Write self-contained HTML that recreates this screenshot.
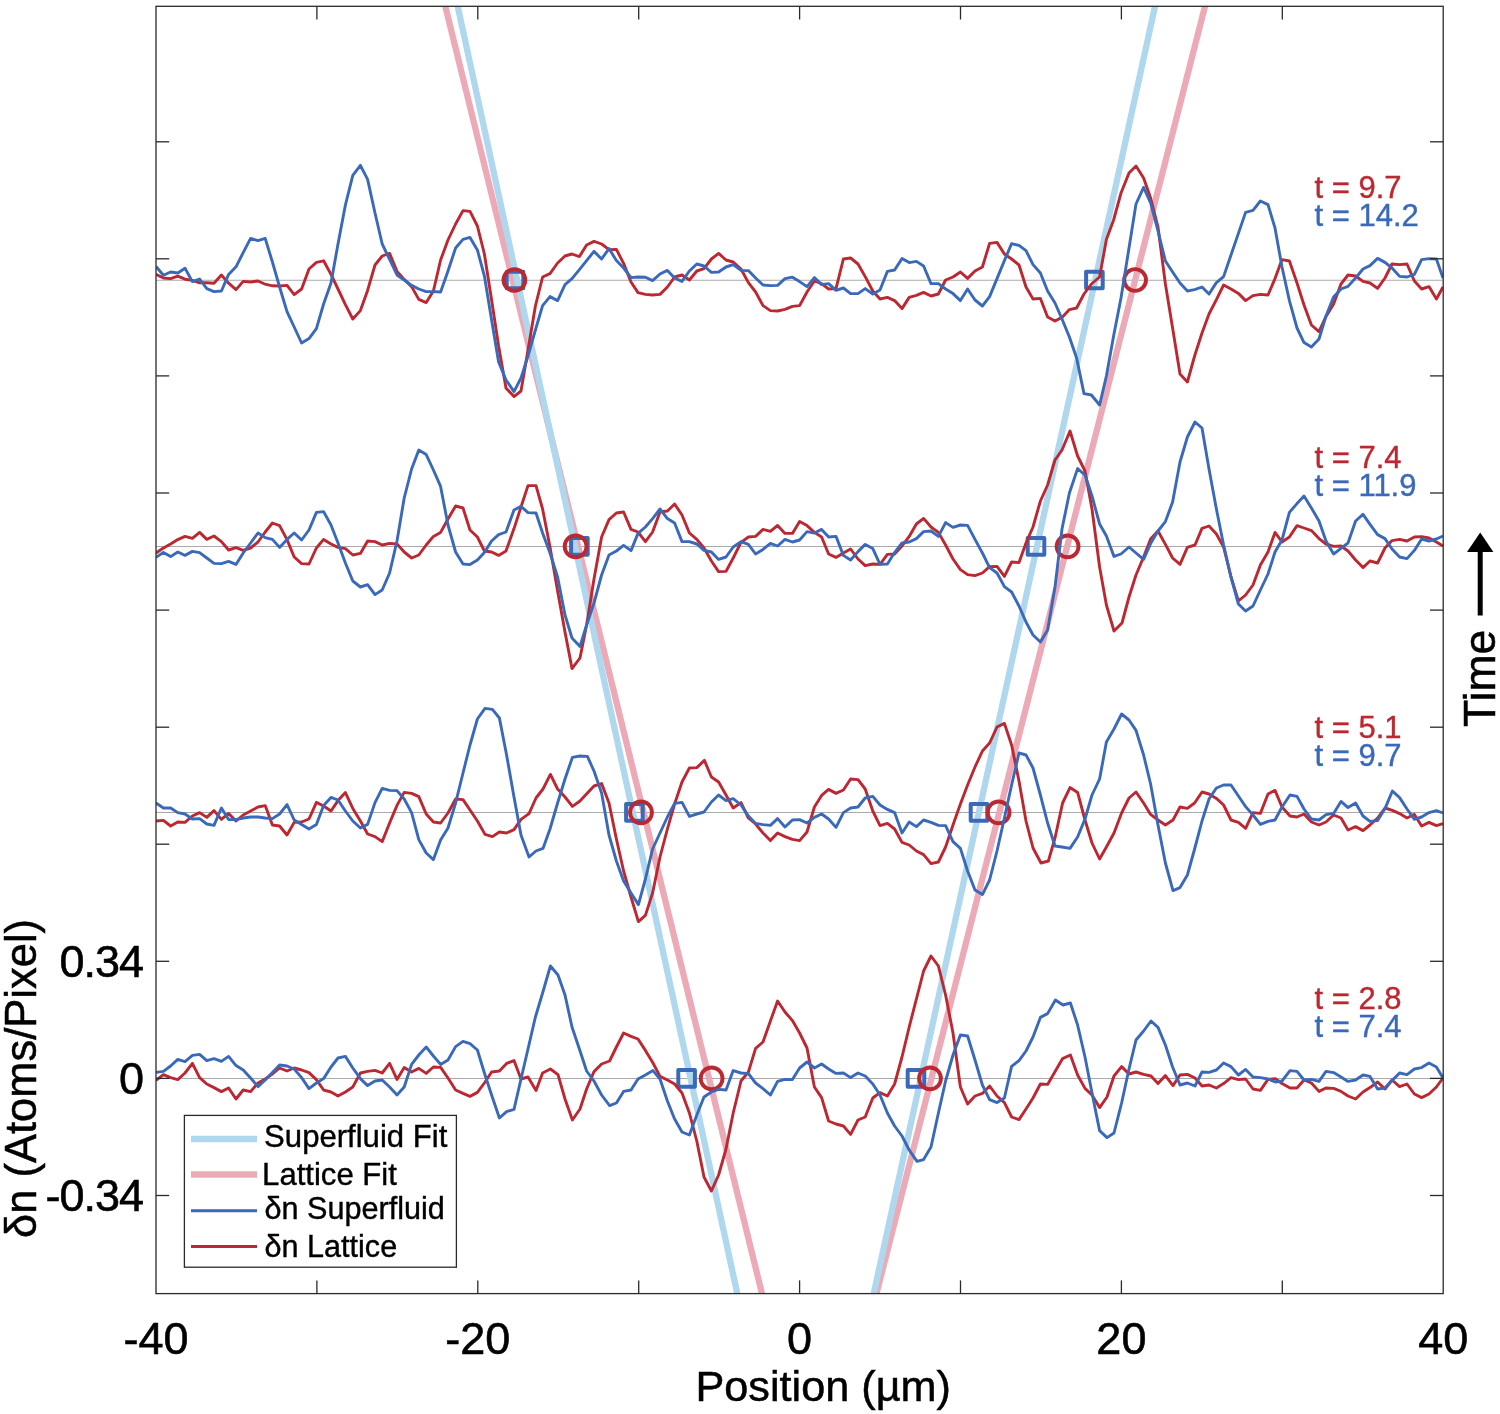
<!DOCTYPE html>
<html lang="en"><head><meta charset="utf-8"><title>Density wave propagation</title>
<style>html,body{margin:0;padding:0;background:#fff;}body{width:1500px;height:1414px;overflow:hidden;}</style>
</head><body>
<svg width="1500" height="1414" viewBox="0 0 1500 1414" style="display:block">
<rect x="0" y="0" width="1500" height="1414" fill="#ffffff"/>
<defs><clipPath id="pc"><rect x="156.0" y="6.3" width="1287.2" height="1287.3"/></clipPath></defs>
<g stroke="#aaaaaa" stroke-width="1.1" fill="none">
<line x1="156.0" y1="280.3" x2="1443.2" y2="280.3"/>
<line x1="156.0" y1="546.5" x2="1443.2" y2="546.5"/>
<line x1="156.0" y1="812.5" x2="1443.2" y2="812.5"/>
<line x1="156.0" y1="1078.5" x2="1443.2" y2="1078.5"/>
</g>
<g stroke-width="6.3" fill="none" clip-path="url(#pc)">
<line x1="442.84" y1="-3.7" x2="764.44" y2="1303.6" stroke="#ecaab6"/>
<line x1="1207.55" y1="-3.7" x2="873.93" y2="1303.6" stroke="#ecaab6"/>
<line x1="455.53" y1="-3.7" x2="739.47" y2="1303.6" stroke="#afd8ee"/>
<line x1="1157.18" y1="-3.7" x2="871.54" y2="1303.6" stroke="#afd8ee"/>
</g>
<g fill="none" stroke="#3a69ba" stroke-width="4" stroke-linejoin="round">
<rect x="506.7" y="271.7" width="16.6" height="16.6"/>
<rect x="1086.1" y="271.7" width="16.6" height="16.6"/>
<rect x="571.1" y="538.1" width="16.6" height="16.6"/>
<rect x="1027.7" y="538.1" width="16.6" height="16.6"/>
<rect x="626.1" y="804.1" width="16.6" height="16.6"/>
<rect x="970.7" y="804.1" width="16.6" height="16.6"/>
<rect x="678.3" y="1070.1" width="16.6" height="16.6"/>
<rect x="907.7" y="1070.1" width="16.6" height="16.6"/>
</g>
<g fill="none" stroke="#bc2831" stroke-width="3.9">
<circle cx="514.4" cy="280" r="10.9"/>
<circle cx="1135.1" cy="280" r="10.9"/>
<circle cx="575.6" cy="546.4" r="10.9"/>
<circle cx="1067.6" cy="546.4" r="10.9"/>
<circle cx="641" cy="812.4" r="10.9"/>
<circle cx="998.6" cy="812.4" r="10.9"/>
<circle cx="711.6" cy="1078.4" r="10.9"/>
<circle cx="930" cy="1078.4" r="10.9"/>
</g>
<g fill="none" stroke-width="2.9" stroke-linejoin="round" stroke-linecap="butt" clip-path="url(#pc)">
<polyline points="156.0,274.4 163.4,278.0 170.6,278.6 177.8,276.2 185.0,279.2 192.4,280.4 199.6,282.8 206.8,282.8 214.0,283.2 221.4,275.0 228.6,283.2 236.0,289.6 243.2,281.4 250.6,282.0 258.0,281.0 265.2,284.2 272.4,285.8 279.6,286.0 287.0,285.4 294.2,294.6 301.6,289.0 309.0,269.0 316.4,262.4 323.6,260.8 331.0,274.4 338.0,289.0 345.4,304.6 352.8,319.0 360.4,310.6 367.6,290.4 375.0,265.0 382.2,256.0 389.6,253.4 397.0,271.4 404.2,279.4 411.6,286.6 418.8,299.4 426.2,302.6 433.4,291.0 440.6,260.0 448.0,240.0 455.6,224.0 463.0,210.6 470.0,211.4 477.4,226.0 484.4,254.0 491.6,300.0 498.6,346.0 506.0,388.0 514.0,396.6 521.0,391.0 528.0,350.0 535.4,306.0 542.6,277.0 550.0,273.6 557.6,263.0 565.0,256.0 572.0,254.0 579.4,256.6 586.6,245.0 594.0,241.4 601.6,244.0 609.0,249.6 616.4,249.4 623.6,263.4 631.0,282.0 638.0,292.6 645.4,294.4 652.6,295.0 660.0,294.4 667.4,287.0 674.6,277.0 682.0,275.0 689.4,280.0 696.8,271.0 704.0,268.6 711.4,259.0 718.6,253.4 726.0,260.0 733.2,262.0 741.0,269.0 748.4,282.6 755.6,292.0 763.0,305.6 770.4,310.6 777.6,311.0 785.0,309.4 792.4,306.4 799.6,305.6 807.0,292.0 814.4,281.0 821.6,283.6 828.6,289.0 836.0,288.6 843.4,259.0 850.6,258.0 858.0,264.0 865.2,276.6 872.8,291.0 880.0,299.0 887.4,297.4 894.6,300.6 902.0,308.6 909.2,297.4 916.4,295.4 923.6,292.4 931.0,296.0 938.4,294.0 945.6,280.0 953.0,277.0 960.4,272.0 967.6,278.4 975.0,271.0 982.4,267.0 989.6,243.4 997.0,242.4 1004.4,254.0 1011.6,259.0 1019.0,265.0 1026.0,287.0 1033.0,299.0 1040.4,298.4 1047.6,317.0 1055.0,321.0 1062.0,317.4 1069.4,309.6 1076.6,308.0 1084.0,294.0 1091.4,284.0 1099.6,277.0 1106.4,239.4 1113.6,220.0 1121.0,193.0 1129.0,173.0 1136.0,166.0 1143.6,178.0 1150.6,198.0 1158.0,227.0 1165.4,284.0 1172.6,328.0 1180.0,374.0 1187.4,382.0 1194.6,356.0 1202.0,333.0 1209.0,314.0 1216.4,299.6 1223.6,285.0 1231.0,289.0 1238.4,293.4 1245.6,300.6 1253.0,295.6 1260.4,294.4 1268.0,295.0 1275.0,278.6 1282.0,259.6 1289.4,261.0 1297.0,283.0 1304.0,305.0 1311.4,325.0 1319.0,331.6 1326.0,316.4 1333.6,304.0 1341.0,284.0 1348.0,275.0 1355.6,276.0 1363.0,281.4 1370.0,283.0 1377.6,288.4 1385.0,278.0 1392.0,264.0 1399.6,264.6 1407.0,264.0 1414.4,281.0 1421.6,289.0 1429.0,286.6 1436.4,299.0 1443.0,287.0" stroke="#bc2831"/>
<polyline points="156.0,553.0 163.4,548.0 170.6,544.0 177.8,539.6 185.0,536.4 192.4,538.4 199.6,532.4 206.8,539.4 214.0,536.0 221.4,541.6 228.6,550.0 236.0,547.6 243.2,550.4 250.6,548.0 258.0,542.0 265.2,532.0 272.4,523.0 279.6,525.6 287.0,539.6 294.2,557.0 301.6,563.6 309.0,564.0 316.4,548.0 323.6,539.4 331.0,544.0 338.0,547.4 345.4,548.6 352.8,555.0 360.4,553.4 367.6,541.0 375.0,541.6 382.2,545.0 389.6,543.4 397.0,544.0 404.2,552.0 411.6,558.0 418.8,555.0 426.2,545.0 433.4,536.4 440.6,532.4 448.0,519.0 455.6,506.0 463.0,508.0 470.0,530.0 477.4,537.0 484.4,551.0 491.6,552.0 498.6,555.4 506.0,551.0 514.0,528.6 521.0,507.0 528.0,485.6 536.0,485.6 542.6,509.0 550.0,547.0 557.6,591.0 565.0,632.0 572.0,668.6 580.0,658.0 586.6,625.0 594.0,579.0 601.6,537.0 609.0,519.6 616.4,513.0 623.6,512.0 631.0,529.4 638.0,532.0 645.4,541.6 652.6,532.0 660.0,512.0 667.4,511.0 674.6,504.0 682.0,515.0 689.4,533.0 696.8,539.4 704.0,548.0 711.4,561.0 718.6,571.6 726.0,571.4 733.2,558.0 741.0,542.4 748.4,537.0 755.6,536.4 763.0,529.4 770.4,531.4 777.6,525.4 785.0,533.4 792.4,533.4 799.6,521.4 807.0,525.6 814.4,532.4 821.6,537.0 828.6,554.0 836.0,557.4 843.4,553.0 850.6,549.0 858.0,559.0 865.2,565.6 872.8,564.0 880.0,564.4 887.4,554.4 894.6,554.0 902.0,546.0 909.2,536.4 916.4,524.0 923.6,518.4 931.0,527.0 938.4,532.4 945.6,545.0 953.0,559.0 960.4,569.6 967.6,574.6 975.0,575.6 982.4,573.0 989.6,566.6 997.0,566.4 1004.4,576.4 1011.6,562.0 1019.0,562.6 1026.0,543.0 1033.0,527.0 1040.4,501.0 1047.6,485.0 1055.0,460.0 1062.0,450.0 1070.0,431.0 1077.6,456.0 1085.0,471.0 1092.0,509.0 1099.6,567.0 1106.4,605.0 1114.0,631.0 1122.0,623.0 1129.0,597.0 1136.0,575.0 1143.6,557.0 1150.6,539.0 1158.0,531.0 1165.4,544.4 1172.6,558.0 1180.0,564.4 1187.4,547.4 1195.0,545.0 1202.0,528.4 1209.0,526.0 1216.4,534.0 1223.6,547.0 1231.0,577.0 1238.4,601.0 1245.6,595.0 1253.0,585.0 1260.4,565.0 1268.0,552.0 1275.0,532.4 1282.0,542.0 1289.4,537.0 1297.0,525.6 1304.0,528.0 1311.4,530.6 1319.0,538.6 1326.0,544.0 1333.6,546.4 1341.0,546.0 1348.0,551.0 1355.6,560.0 1363.0,567.6 1370.0,561.0 1377.6,563.0 1385.0,548.0 1392.0,540.6 1399.6,539.4 1407.0,541.0 1414.4,537.0 1421.6,536.6 1429.0,538.0 1436.4,542.0 1443.0,546.0" stroke="#bc2831"/>
<polyline points="156.0,821.0 163.4,820.4 170.6,826.0 177.8,822.0 185.0,822.4 192.4,816.0 199.6,812.6 206.8,817.4 214.0,810.6 221.4,819.4 228.6,813.4 236.0,821.0 243.2,815.0 250.6,811.0 258.0,807.0 265.2,805.6 272.4,825.0 279.6,826.0 287.0,835.0 294.2,822.4 301.6,822.0 309.0,819.0 316.4,802.4 323.6,806.0 331.0,811.0 338.0,800.6 345.4,792.6 352.8,808.4 360.4,821.0 367.6,834.0 375.0,836.6 382.2,841.6 389.6,823.0 397.0,805.4 404.2,792.4 411.6,793.4 418.8,796.6 426.2,814.0 433.4,822.0 440.6,823.0 448.0,813.0 455.6,799.0 463.0,799.6 470.0,810.0 477.4,821.0 485.0,834.4 492.4,836.6 499.4,832.0 506.6,833.0 514.0,829.6 521.0,819.4 529.0,813.6 536.0,798.0 543.0,789.0 550.4,774.4 557.6,789.0 565.0,797.0 572.4,806.4 580.0,801.0 587.4,793.0 594.0,786.0 601.6,783.6 609.0,803.0 616.4,839.0 623.6,871.0 631.0,897.0 638.4,921.6 645.4,915.4 652.6,893.0 660.0,857.0 667.4,829.0 674.6,804.0 682.0,782.0 689.4,768.0 696.8,767.6 704.4,760.4 711.4,777.0 718.6,782.0 726.0,795.0 733.2,808.0 741.0,802.6 748.4,818.0 755.6,824.0 763.0,833.0 770.4,840.6 777.6,833.0 785.0,836.6 792.4,839.4 799.6,840.6 807.0,832.0 814.4,807.0 821.6,795.4 828.6,789.4 836.0,793.4 843.4,790.0 850.6,779.0 858.0,779.6 865.2,789.0 872.8,811.0 880.0,825.6 887.4,823.4 894.6,829.0 902.0,842.4 909.2,845.0 916.4,851.0 923.6,854.6 931.0,863.6 938.4,862.0 945.6,847.0 953.0,825.0 960.4,804.0 967.6,785.0 975.0,767.0 982.4,751.0 989.6,743.0 997.0,727.0 1004.4,723.4 1011.6,745.0 1019.0,781.0 1026.0,821.0 1033.0,848.0 1041.0,863.0 1048.4,861.0 1055.0,838.0 1062.6,803.0 1070.0,787.6 1077.6,792.4 1085.0,820.0 1092.0,843.0 1099.6,859.0 1106.4,847.0 1114.0,833.0 1121.6,813.0 1129.0,798.0 1136.0,792.0 1143.6,803.0 1150.6,814.4 1158.0,820.0 1165.4,825.0 1173.0,820.0 1180.0,807.0 1187.4,808.4 1194.6,803.0 1202.0,792.0 1209.0,794.0 1216.4,798.4 1223.6,805.0 1231.0,820.0 1238.4,822.4 1245.6,828.4 1253.0,812.6 1260.4,813.4 1268.0,794.0 1275.0,790.4 1282.0,807.0 1290.0,816.0 1297.0,817.0 1304.0,814.0 1311.4,822.0 1319.0,825.0 1326.0,822.0 1333.6,815.0 1341.0,818.0 1348.0,830.0 1355.6,826.6 1363.0,830.6 1370.0,825.0 1377.6,818.0 1385.0,808.0 1392.4,810.4 1399.6,813.6 1407.0,818.0 1414.4,814.4 1421.6,826.0 1429.0,822.4 1436.4,825.6 1443.0,823.6" stroke="#bc2831"/>
<polyline points="156.0,1080.4 163.4,1074.6 170.6,1077.6 177.8,1079.6 185.0,1073.0 192.4,1063.4 199.6,1077.6 206.8,1084.0 214.0,1087.6 221.4,1091.6 228.6,1088.0 236.0,1099.0 243.2,1090.0 250.6,1091.6 258.0,1083.0 265.2,1079.0 272.4,1074.0 279.6,1068.0 287.0,1071.0 294.2,1068.0 301.6,1070.0 309.0,1072.6 316.4,1079.6 323.6,1090.0 331.0,1092.0 338.0,1096.0 345.4,1092.0 352.8,1087.0 360.4,1073.0 367.6,1071.4 375.0,1070.4 382.2,1073.0 389.6,1063.4 397.0,1079.4 404.2,1067.4 411.6,1072.0 418.8,1068.4 426.2,1073.4 433.4,1067.0 440.6,1067.4 448.0,1078.0 455.6,1090.0 463.0,1093.4 470.0,1096.4 477.4,1092.4 484.4,1083.0 491.6,1072.0 499.4,1071.0 506.6,1063.4 514.0,1060.6 521.0,1079.0 528.0,1077.0 536.0,1090.4 542.6,1073.0 550.4,1069.0 558.0,1074.6 565.0,1099.0 572.4,1120.0 580.0,1109.0 586.6,1089.0 594.0,1071.6 601.6,1064.0 609.6,1061.0 616.4,1047.0 623.6,1033.0 631.0,1036.4 638.0,1039.0 645.4,1050.4 653.0,1063.0 660.0,1076.4 667.4,1080.0 674.6,1084.0 682.0,1093.0 689.4,1113.0 696.8,1141.0 704.0,1177.0 711.4,1191.0 718.6,1175.0 726.0,1149.0 733.2,1113.0 741.0,1081.0 748.4,1072.0 755.6,1048.4 763.0,1042.0 770.4,1021.0 777.6,1001.0 785.0,1012.0 792.4,1020.6 799.6,1033.0 807.0,1048.0 814.4,1087.0 821.6,1097.6 828.6,1121.0 836.0,1124.0 843.4,1126.0 850.6,1134.4 858.0,1120.0 865.2,1117.0 872.8,1098.0 880.0,1092.6 887.4,1096.0 894.6,1084.0 902.0,1057.0 909.2,1027.0 916.4,999.0 923.6,971.0 931.0,956.0 938.4,966.0 945.6,995.0 953.0,1033.0 960.4,1087.0 967.6,1104.0 975.0,1096.0 982.4,1093.4 989.6,1086.0 997.0,1096.0 1004.4,1102.6 1011.6,1117.0 1019.0,1119.6 1026.0,1109.0 1033.0,1098.0 1040.4,1084.0 1047.6,1084.4 1055.4,1071.0 1062.6,1058.6 1070.4,1055.0 1077.6,1075.0 1085.0,1088.4 1092.0,1095.0 1099.6,1107.6 1107.0,1097.0 1114.0,1076.0 1121.6,1066.6 1129.0,1074.0 1136.0,1072.0 1143.6,1074.4 1151.0,1076.0 1158.0,1083.6 1165.4,1075.6 1173.0,1085.6 1180.0,1075.0 1187.4,1074.4 1195.0,1078.0 1202.0,1086.0 1209.0,1085.0 1216.4,1088.0 1223.6,1083.6 1231.0,1077.6 1238.4,1079.6 1245.6,1079.0 1253.0,1089.0 1260.4,1090.4 1268.0,1079.4 1275.4,1078.6 1282.0,1083.6 1290.0,1088.0 1297.0,1088.0 1304.0,1080.0 1311.4,1083.0 1319.0,1091.4 1326.0,1088.0 1333.6,1088.4 1341.0,1091.4 1348.0,1096.0 1355.6,1099.0 1363.0,1092.0 1370.0,1087.6 1377.6,1082.0 1385.0,1089.0 1392.0,1080.0 1399.6,1086.6 1407.0,1084.0 1414.4,1094.0 1421.6,1097.6 1429.0,1094.0 1436.4,1087.0 1443.0,1078.0" stroke="#bc2831"/>
<polyline points="156.0,266.4 163.4,275.2 170.6,272.0 177.8,273.0 185.0,268.2 192.4,281.6 199.6,279.0 206.8,288.6 214.0,291.6 221.4,291.0 228.6,274.4 236.0,266.8 243.2,252.6 250.6,238.4 258.0,240.6 265.2,238.4 272.4,262.0 279.6,287.0 287.0,311.6 294.2,327.0 301.6,343.0 309.0,338.6 316.4,328.6 323.6,304.0 331.0,283.0 338.0,244.0 345.4,205.0 352.8,175.4 360.4,165.4 367.6,179.4 375.0,213.0 382.2,244.0 389.6,259.4 397.0,275.0 404.2,280.0 411.6,285.4 418.8,289.0 426.2,291.6 433.4,291.6 440.6,292.0 448.0,271.0 455.6,248.0 463.0,239.4 470.0,237.4 477.4,250.0 484.4,276.0 491.6,320.0 498.6,362.0 506.0,380.0 514.0,391.6 521.0,378.0 528.0,356.0 535.4,330.0 542.6,305.6 550.0,296.6 557.6,300.6 565.0,284.6 572.0,278.6 579.4,269.6 586.6,260.6 594.0,251.4 601.6,259.0 609.0,248.6 616.4,260.6 623.6,268.0 631.0,277.6 638.0,277.0 645.4,277.2 652.6,280.6 660.0,274.0 667.4,270.4 674.6,278.0 682.0,281.4 689.4,271.0 696.8,264.0 704.0,266.0 711.4,272.4 718.6,272.0 726.0,267.0 733.2,264.6 741.0,270.4 748.4,270.6 755.6,278.0 763.0,285.0 770.4,285.6 777.6,285.4 785.0,278.6 792.4,277.2 799.6,281.6 807.0,286.6 814.4,277.6 821.6,284.6 828.6,283.6 836.0,290.4 843.4,288.0 850.6,293.6 858.0,293.6 865.2,288.6 872.8,294.0 880.0,290.0 887.4,271.4 894.6,270.0 902.0,258.6 909.2,262.6 916.4,261.4 923.6,266.0 931.0,283.6 938.4,283.6 945.6,289.0 953.0,293.6 960.4,300.6 967.6,289.0 975.0,300.0 982.4,306.0 989.6,296.6 997.0,278.6 1004.4,260.6 1011.6,243.6 1019.0,245.4 1026.0,250.6 1033.0,264.6 1040.4,273.0 1047.6,291.0 1055.0,303.0 1062.0,319.0 1069.4,337.0 1076.6,358.0 1084.0,393.6 1091.4,395.0 1099.6,405.0 1106.4,376.0 1113.6,336.0 1121.0,298.0 1129.0,248.0 1136.0,204.0 1143.6,187.4 1150.6,203.0 1158.0,231.0 1165.4,261.0 1172.6,272.0 1180.0,283.0 1187.4,291.0 1194.6,289.6 1202.0,287.0 1209.0,294.0 1216.4,282.6 1223.6,276.6 1231.0,255.0 1238.4,233.4 1245.6,212.4 1253.0,210.4 1260.4,201.0 1268.0,204.6 1275.0,228.0 1282.0,267.0 1289.4,300.6 1297.0,328.0 1304.0,342.6 1311.4,347.0 1319.0,339.0 1326.0,316.0 1333.6,297.0 1341.0,289.0 1348.0,286.4 1355.6,278.0 1363.0,269.0 1370.0,265.6 1377.6,258.4 1385.0,262.4 1392.0,268.0 1399.6,276.4 1407.0,277.0 1414.4,274.4 1421.6,259.6 1429.0,258.6 1436.4,259.0 1443.0,278.0" stroke="#3a69ba"/>
<polyline points="156.0,557.4 163.4,552.4 170.6,556.6 177.8,552.0 185.0,555.4 192.4,551.4 199.6,552.6 206.8,558.0 214.0,563.4 221.4,563.6 228.6,561.4 236.0,564.4 243.2,553.0 250.6,543.0 258.0,533.0 265.2,537.6 272.4,539.4 279.6,547.4 287.0,539.4 294.2,533.0 301.6,540.0 309.0,530.0 316.4,512.4 323.6,511.6 331.0,525.0 338.0,543.0 345.4,563.0 352.8,581.0 360.4,587.0 367.6,584.6 375.0,594.6 382.2,590.0 389.6,573.0 397.0,541.0 404.2,498.0 411.6,469.0 418.8,450.0 426.2,454.6 433.4,470.0 440.6,486.4 448.0,525.0 455.6,552.0 463.0,564.0 470.0,564.6 477.4,560.0 484.4,552.6 491.6,541.0 498.6,534.6 506.0,532.0 514.0,510.0 521.0,506.4 528.0,512.6 536.0,513.0 542.6,533.0 550.0,553.0 557.6,577.0 565.0,615.0 572.0,638.0 580.0,646.4 586.6,625.0 594.0,603.0 601.6,575.0 609.0,555.0 616.4,551.0 623.6,545.4 631.0,550.6 638.0,533.4 645.4,527.0 652.6,518.6 660.0,509.0 667.4,518.6 674.6,523.0 682.0,541.6 689.4,541.6 696.8,544.0 704.0,550.4 711.4,552.0 718.6,559.4 726.0,557.0 733.2,547.0 741.0,541.6 748.4,544.4 755.6,554.0 763.0,549.4 770.4,543.4 777.6,546.0 785.0,539.4 792.4,542.0 799.6,540.0 807.0,531.6 814.4,533.0 821.6,529.4 828.6,537.0 836.0,536.4 843.4,555.4 850.6,560.0 858.0,551.6 865.2,544.4 872.8,548.6 880.0,564.4 887.4,564.0 894.6,552.6 902.0,543.0 909.2,542.0 916.4,538.6 923.6,531.6 931.0,531.0 938.4,536.4 945.6,522.6 953.0,527.4 960.4,525.0 967.6,525.4 975.0,539.4 982.4,553.0 989.6,567.6 997.0,573.0 1004.4,586.6 1011.6,592.0 1019.0,606.0 1026.0,622.0 1033.0,635.0 1040.4,642.0 1047.6,630.0 1055.0,587.0 1062.0,529.0 1069.4,493.0 1077.6,468.6 1085.0,475.0 1092.0,496.0 1099.6,524.0 1106.4,536.0 1114.0,556.4 1121.0,554.0 1129.0,547.0 1136.0,553.0 1143.6,559.4 1150.6,543.6 1158.0,531.0 1165.4,521.6 1172.6,502.0 1180.0,462.0 1187.4,437.0 1195.0,422.0 1202.0,428.0 1209.0,469.0 1216.4,509.0 1223.6,545.0 1231.0,577.0 1238.4,604.0 1245.6,611.0 1253.0,606.0 1260.4,590.0 1268.0,574.0 1275.0,552.0 1282.0,540.0 1289.4,512.4 1297.0,503.6 1304.0,496.0 1311.4,508.0 1319.0,521.0 1326.0,541.0 1333.6,554.0 1341.0,548.4 1348.0,543.0 1355.6,521.0 1363.0,514.4 1370.0,524.4 1377.6,534.6 1385.0,538.6 1392.0,549.0 1399.6,557.0 1407.0,558.6 1414.4,550.4 1421.6,539.0 1429.0,541.0 1436.4,539.0 1443.0,536.0" stroke="#3a69ba"/>
<polyline points="156.0,803.0 163.4,808.0 170.6,808.0 177.8,812.6 185.0,814.0 192.4,819.0 199.6,818.6 206.8,824.0 214.0,825.4 221.4,808.0 228.6,819.6 236.0,819.6 243.2,818.0 250.6,817.0 258.0,817.0 265.2,818.0 272.4,818.6 279.6,814.0 287.0,804.6 294.2,820.0 301.6,824.6 309.0,829.0 316.4,824.6 323.6,805.4 331.0,797.4 338.0,800.0 345.4,811.0 352.8,821.0 360.4,828.0 367.6,824.4 375.0,802.6 382.2,788.4 389.6,790.4 397.0,790.6 404.2,799.0 411.6,812.6 418.8,839.6 426.2,853.0 433.4,859.6 440.6,840.0 448.0,828.0 455.6,803.0 463.0,773.0 470.0,745.0 477.4,719.0 485.0,708.4 492.4,709.4 499.4,718.0 506.6,755.0 514.0,797.0 521.0,835.0 529.0,857.0 536.0,851.0 543.0,848.4 550.0,829.0 557.6,803.0 565.0,779.0 572.4,757.4 580.0,756.0 587.4,756.4 594.0,771.0 601.6,793.0 609.0,835.0 616.4,861.0 623.6,881.0 631.0,893.0 638.4,904.6 645.4,879.0 652.6,849.0 660.0,833.0 667.4,817.0 674.6,803.4 682.0,802.4 689.4,816.4 696.8,814.0 704.0,812.0 711.4,802.0 718.6,795.0 726.0,800.6 733.2,798.6 741.0,805.0 748.4,816.0 755.6,823.4 763.0,824.6 770.4,825.4 777.6,818.6 785.0,827.0 792.4,820.0 799.6,819.6 807.0,823.0 814.4,817.4 821.6,814.0 828.6,819.0 836.0,827.4 843.4,812.6 850.6,808.0 858.0,807.0 865.2,798.0 872.8,796.4 880.0,805.0 887.4,809.4 894.6,812.6 902.0,833.0 909.2,822.0 916.4,826.6 923.6,820.0 931.0,822.4 938.4,825.4 945.6,825.6 953.0,841.6 960.4,848.4 967.6,871.0 975.0,890.0 982.4,894.6 989.6,880.0 997.0,851.0 1004.4,818.0 1011.6,785.0 1019.0,753.0 1026.0,755.0 1033.0,768.0 1040.4,795.0 1047.6,823.0 1055.0,846.0 1062.0,847.0 1070.0,848.4 1077.6,837.0 1085.0,819.0 1092.0,795.0 1099.6,779.0 1106.4,742.0 1114.0,729.0 1121.6,714.0 1129.0,720.0 1136.0,730.4 1143.6,755.0 1150.6,784.0 1158.0,825.0 1165.4,863.0 1173.0,890.6 1180.0,887.6 1187.4,875.0 1194.6,849.0 1202.0,821.0 1209.0,799.0 1216.4,788.0 1223.6,785.0 1231.0,785.0 1238.4,796.0 1245.6,806.6 1253.0,815.0 1260.4,824.4 1268.0,821.4 1275.0,820.0 1282.0,807.0 1290.0,795.0 1297.0,796.4 1304.0,809.0 1311.4,819.0 1319.0,820.0 1326.0,814.6 1333.6,813.4 1341.0,801.4 1348.0,807.6 1355.6,803.0 1363.0,816.0 1370.0,821.4 1377.6,820.6 1385.0,808.6 1392.4,791.0 1399.6,797.6 1407.0,809.0 1414.4,819.4 1421.6,817.0 1429.0,812.6 1436.4,810.6 1443.0,813.0" stroke="#3a69ba"/>
<polyline points="156.0,1072.4 163.4,1071.4 170.6,1066.0 177.8,1059.4 185.0,1061.6 192.4,1055.4 199.6,1054.4 206.8,1060.6 214.0,1058.6 221.4,1061.4 228.6,1056.4 236.0,1065.6 243.2,1070.0 250.6,1078.0 258.0,1086.6 265.2,1080.0 272.4,1072.6 279.6,1065.0 287.0,1066.0 294.2,1069.0 301.6,1077.6 309.0,1088.6 316.4,1083.0 323.6,1078.6 331.0,1067.0 338.0,1058.0 345.4,1056.4 352.8,1068.0 360.4,1078.6 367.6,1085.6 375.0,1081.0 382.2,1080.0 389.6,1087.0 397.0,1095.0 404.2,1087.0 411.6,1064.4 418.8,1055.0 426.2,1047.0 433.4,1056.0 440.6,1064.4 448.0,1060.0 455.6,1046.6 463.0,1041.4 470.0,1043.6 477.4,1050.0 484.4,1073.0 491.6,1095.0 499.4,1118.0 506.6,1111.6 514.0,1109.4 521.0,1079.0 528.0,1049.0 535.4,1017.0 542.6,993.0 550.4,966.0 558.0,975.0 565.0,995.0 572.0,1027.0 579.4,1049.0 586.6,1071.0 594.0,1081.0 601.6,1095.0 609.6,1105.6 616.4,1103.0 623.6,1091.4 631.0,1090.0 638.0,1079.0 645.4,1075.0 653.0,1070.6 660.0,1079.0 667.4,1101.0 674.6,1119.0 682.0,1132.0 689.4,1135.0 696.8,1115.0 704.0,1097.0 711.4,1092.0 718.6,1089.4 726.0,1090.0 733.2,1070.6 741.0,1073.0 748.4,1073.6 755.6,1083.0 763.0,1088.6 770.4,1095.0 777.6,1081.4 785.0,1079.4 792.4,1079.6 799.6,1068.0 807.0,1062.0 814.4,1068.0 821.6,1064.0 828.6,1069.0 836.0,1073.4 843.4,1073.0 850.6,1077.6 858.0,1073.0 865.2,1076.0 872.8,1084.0 880.0,1095.0 887.4,1113.0 894.6,1126.0 902.0,1136.0 909.2,1150.0 917.0,1161.4 923.6,1159.6 931.0,1147.0 938.4,1113.0 945.6,1081.0 953.0,1055.0 960.4,1035.0 967.6,1036.0 975.0,1060.0 982.4,1085.0 989.6,1099.6 997.0,1102.6 1004.4,1098.0 1011.6,1066.4 1019.0,1060.6 1026.0,1051.0 1033.0,1037.0 1040.4,1017.4 1047.6,1013.6 1055.4,1000.0 1063.0,1005.0 1070.4,1003.0 1077.6,1025.0 1085.0,1057.0 1092.0,1093.0 1099.6,1130.6 1107.0,1137.6 1114.0,1133.0 1121.6,1103.0 1129.0,1069.0 1136.0,1040.0 1143.6,1031.0 1151.0,1021.0 1158.0,1027.4 1165.4,1045.0 1172.6,1067.0 1180.0,1085.0 1187.4,1083.0 1195.0,1086.0 1202.0,1072.0 1209.0,1072.4 1216.4,1070.0 1223.6,1063.0 1231.0,1066.6 1238.4,1075.0 1245.6,1069.4 1253.0,1077.0 1260.4,1077.6 1268.0,1079.0 1275.4,1082.0 1282.0,1081.0 1290.0,1070.6 1297.0,1071.4 1304.0,1080.0 1311.4,1079.4 1319.0,1081.4 1326.0,1071.4 1333.6,1072.6 1341.0,1077.0 1348.0,1081.4 1355.6,1080.0 1363.0,1075.0 1370.0,1076.4 1377.6,1089.0 1385.0,1088.0 1392.0,1080.6 1399.6,1073.0 1407.0,1074.6 1414.4,1069.0 1421.6,1067.6 1429.0,1063.0 1436.4,1067.0 1443.0,1078.0" stroke="#3a69ba"/>
</g>
<g stroke="#2a2a2a" stroke-width="1.3" fill="none">
<rect x="156.0" y="6.3" width="1287.2" height="1287.3"/>
<line x1="316.9" y1="1293.6" x2="316.9" y2="1280.3999999999999"/>
<line x1="316.9" y1="6.3" x2="316.9" y2="19.5"/>
<line x1="477.8" y1="1293.6" x2="477.8" y2="1280.3999999999999"/>
<line x1="477.8" y1="6.3" x2="477.8" y2="19.5"/>
<line x1="638.7" y1="1293.6" x2="638.7" y2="1280.3999999999999"/>
<line x1="638.7" y1="6.3" x2="638.7" y2="19.5"/>
<line x1="799.6" y1="1293.6" x2="799.6" y2="1280.3999999999999"/>
<line x1="799.6" y1="6.3" x2="799.6" y2="19.5"/>
<line x1="960.5" y1="1293.6" x2="960.5" y2="1280.3999999999999"/>
<line x1="960.5" y1="6.3" x2="960.5" y2="19.5"/>
<line x1="1121.4" y1="1293.6" x2="1121.4" y2="1280.3999999999999"/>
<line x1="1121.4" y1="6.3" x2="1121.4" y2="19.5"/>
<line x1="1282.3" y1="1293.6" x2="1282.3" y2="1280.3999999999999"/>
<line x1="1282.3" y1="6.3" x2="1282.3" y2="19.5"/>
<line x1="156.0" y1="1195.5" x2="169.2" y2="1195.5"/>
<line x1="1443.2" y1="1195.5" x2="1430.0" y2="1195.5"/>
<line x1="156.0" y1="1078.4" x2="169.2" y2="1078.4"/>
<line x1="1443.2" y1="1078.4" x2="1430.0" y2="1078.4"/>
<line x1="156.0" y1="961.3" x2="169.2" y2="961.3"/>
<line x1="1443.2" y1="961.3" x2="1430.0" y2="961.3"/>
<line x1="156.0" y1="844.2" x2="169.2" y2="844.2"/>
<line x1="1443.2" y1="844.2" x2="1430.0" y2="844.2"/>
<line x1="156.0" y1="727.2" x2="169.2" y2="727.2"/>
<line x1="1443.2" y1="727.2" x2="1430.0" y2="727.2"/>
<line x1="156.0" y1="610.1" x2="169.2" y2="610.1"/>
<line x1="1443.2" y1="610.1" x2="1430.0" y2="610.1"/>
<line x1="156.0" y1="493.0" x2="169.2" y2="493.0"/>
<line x1="1443.2" y1="493.0" x2="1430.0" y2="493.0"/>
<line x1="156.0" y1="375.9" x2="169.2" y2="375.9"/>
<line x1="1443.2" y1="375.9" x2="1430.0" y2="375.9"/>
<line x1="156.0" y1="258.8" x2="169.2" y2="258.8"/>
<line x1="1443.2" y1="258.8" x2="1430.0" y2="258.8"/>
<line x1="156.0" y1="141.8" x2="169.2" y2="141.8"/>
<line x1="1443.2" y1="141.8" x2="1430.0" y2="141.8"/>
</g>
<g font-family='"Liberation Sans", Arial, Helvetica, sans-serif' font-size="45" fill="#000" stroke="#000" stroke-width="0.6" text-anchor="middle">
<text x="156.0" y="1354.3">-40</text>
<text x="477.8" y="1354.3">-20</text>
<text x="799.6" y="1354.3">0</text>
<text x="1121.4" y="1354.3">20</text>
<text x="1443.2" y="1354.3">40</text>
</g>
<g font-family='"Liberation Sans", Arial, Helvetica, sans-serif' font-size="45" fill="#000" stroke="#000" stroke-width="0.6" text-anchor="end" letter-spacing="-1">
<text x="143" y="976.8">0.34</text>
<text x="143" y="1093.9">0</text>
<text x="143" y="1211.0">-0.34</text>
</g>
<text font-family='"Liberation Sans", Arial, Helvetica, sans-serif' font-size="43.25" fill="#000" stroke="#000" stroke-width="0.5" text-anchor="middle" x="823.2" y="1401">Position (µm)</text>
<text font-family='"Liberation Sans", Arial, Helvetica, sans-serif' font-size="43.5" fill="#000" stroke="#000" stroke-width="0.5" text-anchor="middle" transform="translate(36,1078.5) rotate(-90)">δn (Atoms/Pixel)</text>
<text font-family='"Liberation Sans", Arial, Helvetica, sans-serif' font-size="44.5" fill="#000" stroke="#000" stroke-width="0.5" text-anchor="start" transform="translate(1494.8,727) rotate(-90)">Time</text>
<line x1="1480.2" y1="615.5" x2="1480.2" y2="548" stroke="#000" stroke-width="5"/>
<polygon points="1480.2,532.6 1467,552 1493.4,552" fill="#000"/>
<g font-family='"Liberation Sans", Arial, Helvetica, sans-serif' font-size="31" stroke-width="0.4" text-anchor="start">
<text x="1314.5" y="198" fill="#bc2831" stroke="#bc2831">t = 9.7</text>
<text x="1314.5" y="226" fill="#3a69ba" stroke="#3a69ba">t = 14.2</text>
<text x="1314.5" y="468" fill="#bc2831" stroke="#bc2831">t = 7.4</text>
<text x="1314.5" y="496" fill="#3a69ba" stroke="#3a69ba">t = 11.9</text>
<text x="1314.5" y="738.4" fill="#bc2831" stroke="#bc2831">t = 5.1</text>
<text x="1314.5" y="766" fill="#3a69ba" stroke="#3a69ba">t = 9.7</text>
<text x="1314.5" y="1009" fill="#bc2831" stroke="#bc2831">t = 2.8</text>
<text x="1314.5" y="1036.6" fill="#3a69ba" stroke="#3a69ba">t = 7.4</text>
</g>
<rect x="184.4" y="1115.4" width="272" height="151.8" fill="#fff" stroke="#2a2a2a" stroke-width="1.3"/>
<line x1="191" y1="1139" x2="257" y2="1139" stroke="#afd8ee" stroke-width="6.5"/>
<line x1="191" y1="1174.6" x2="257" y2="1174.6" stroke="#ecaab6" stroke-width="6.5"/>
<line x1="191" y1="1210.8" x2="257" y2="1210.8" stroke="#3a69ba" stroke-width="2.9"/>
<line x1="191" y1="1246.5" x2="257" y2="1246.5" stroke="#bc2831" stroke-width="2.9"/>
<g font-family='"Liberation Sans", Arial, Helvetica, sans-serif' fill="#000" stroke="#000" stroke-width="0.4" text-anchor="start">
<text x="264.1" y="1146.6" font-size="31.1">Superfluid Fit</text>
<text x="262.1" y="1185.0" font-size="31.1">Lattice Fit</text>
<text x="264.5" y="1218.6" font-size="30.6">δn Superfluid</text>
<text x="264.5" y="1257.4" font-size="30.6">δn Lattice</text>
</g>
</svg>
</body></html>
